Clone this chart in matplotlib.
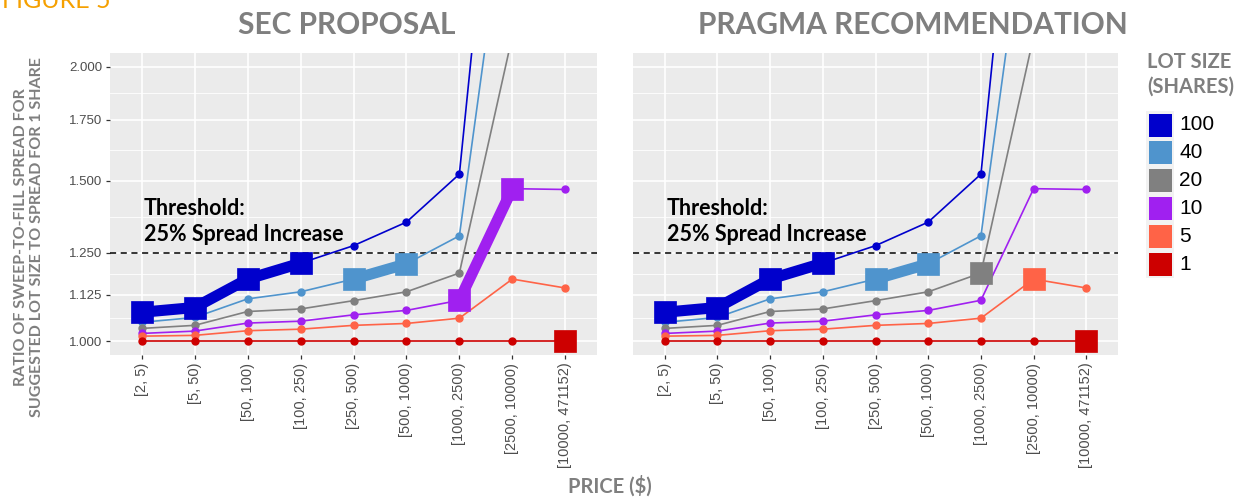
import numpy as np
import matplotlib
matplotlib.use("Agg")
import matplotlib.pyplot as plt
from matplotlib.ticker import FixedLocator, FuncFormatter, NullFormatter
from matplotlib.patches import Rectangle

# ---------------- data ----------------
categories = ["[2, 5)", "[5, 50)", "[50, 100)", "[100, 250)", "[250, 500)",
              "[500, 1000)", "[1000, 2500)", "[2500, 10000)", "[10000, 471152)"]
lot_sizes = ["100", "40", "20", "10", "5", "1"]
ratio_100 = [1.076, 1.089, 1.170, 1.218, 1.273, 1.351, 1.525, 5.70, 6.20]
ratio_40 = [1.049, 1.062, 1.113, 1.133, 1.170, 1.216, 1.305, 3.46, 3.60]
ratio_20 = [1.033, 1.041, 1.078, 1.085, 1.108, 1.133, 1.188, 2.16, 2.30]
ratio_10 = [1.020, 1.026, 1.047, 1.052, 1.069, 1.081, 1.109, 1.470, 1.467]
ratio_5 = [1.013, 1.015, 1.027, 1.031, 1.041, 1.046, 1.060, 1.170, 1.144]
ratio_1 = [1.000, 1.000, 1.000, 1.000, 1.000, 1.000, 1.000, 1.000, 1.000]
series = {"100": ratio_100, "40": ratio_40, "20": ratio_20,
          "10": ratio_10, "5": ratio_5, "1": ratio_1}
colors = {"100": "#0000CC", "40": "#4F94CD", "20": "#808080",
          "10": "#A020F0", "5": "#FF6347", "1": "#CD0000"}

# suggested lot size per price bucket
sec_lot = ["100", "100", "100", "100", "40", "40", "10", "10", "1"]
pragma_lot = ["100", "100", "100", "100", "40", "40", "20", "5", "1"]
panel_titles = ["SEC PROPOSAL", "PRAGMA RECOMMENDATION"]

y_breaks = [1.000, 1.125, 1.250, 1.500, 1.750, 2.000]
threshold = 1.25

# ---------------- figure ----------------
W, H = 1246, 497
fig = plt.figure(figsize=(W / 100, H / 100), dpi=100)

def fx(px):
    return px / W

def fy(py):
    return 1 - py / H

panel_top, panel_bot = 53, 355
ax_left = fig.add_axes([fx(110), fy(panel_bot), fx(487), fy(panel_top) - fy(panel_bot)])
ax_right = fig.add_axes([fx(633), fy(panel_bot), fx(485), fy(panel_top) - fy(panel_bot)])

bg = "#EBEBEB"
lo, hi = np.log(1.0), np.log(2.0)
ex = (hi - lo) * 0.05
ylim = (np.exp(lo - ex), np.exp(hi + ex))
minor = [np.sqrt(a * b) for a, b in zip(y_breaks[:-1], y_breaks[1:])]
x = np.arange(len(categories))

for ax, lots, title, tcx in zip([ax_left, ax_right], [sec_lot, pragma_lot],
                                panel_titles, [347, 913]):
    ax.set_facecolor(bg)
    for s in ax.spines.values():
        s.set_visible(False)
    ax.set_yscale("log")
    ax.set_ylim(*ylim)
    ax.set_xlim(-0.6, len(categories) - 0.4)
    ax.yaxis.set_major_locator(FixedLocator(y_breaks))
    ax.yaxis.set_minor_locator(FixedLocator(minor))
    ax.yaxis.set_minor_formatter(NullFormatter())
    ax.yaxis.set_major_formatter(FuncFormatter(lambda v, p: f"{v:.3f}"))
    ax.set_xticks(x)
    ax.set_xticklabels(categories, rotation=90, fontsize=10.5, color="#4D4D4D",
                       family="Liberation Sans")
    ax.tick_params(axis="both", which="major", length=3, width=0.9, color="#333333",
                   pad=2.5)
    ax.tick_params(axis="y", which="minor", length=0)
    for lab in ax.get_yticklabels():
        lab.set_fontsize(9.5)
        lab.set_color("#4D4D4D")
        lab.set_family("Liberation Sans")
    ax.grid(True, which="major", color="white", lw=1.2)
    ax.grid(True, which="minor", axis="y", color="white", lw=0.6)
    ax.set_axisbelow(True)

    ax.axhline(threshold, color="black", lw=1.1, ls=(0, (4, 3)), zorder=2)

    # thin lines for every lot size
    for k in lot_sizes:
        ax.plot(x, series[k], color=colors[k], lw=1.2, marker="o", ms=5,
                zorder=3, solid_capstyle="round")

    # highlighted suggested lot size
    i = 0
    while i < len(lots):
        j = i
        while j + 1 < len(lots) and lots[j + 1] == lots[i]:
            j += 1
        k = lots[i]
        xs = x[i:j + 1]
        ys = series[k][i:j + 1]
        if j > i:
            ax.plot(xs, ys, color=colors[k], lw=8, solid_capstyle="butt",
                    solid_joinstyle="round", zorder=4)
        ax.plot(xs, ys, ls="none", marker="s", ms=15.5, color=colors[k],
                mec=colors[k], mew=0.5, zorder=5)
        i = j + 1

    ax.text(0.04, 1.352, "Threshold:\n25% Spread Increase", fontsize=15.5,
            fontweight="bold", family="Lato", color="black", ha="left",
            va="center", linespacing=1.3, zorder=6)

    fig.text(fx(tcx), fy(25), title, fontsize=21.5, fontweight="bold",
             family="Lato", color="#7F7F7F", ha="center", va="center")

ax_right.tick_params(axis="y", which="both", left=False, labelleft=False)

# figure label (partly cut off at top, as in the reference)
fig.text(fx(2), fy(8), "FIGURE 5", fontsize=18, family="Lato", color="#F5A000",
         ha="left", va="baseline")

# axis titles
fig.text(fx(29), fy(237),
         "RATIO OF SWEEP-TO-FILL SPREAD FOR\nSUGGESTED LOT SIZE TO SPREAD FOR 1 SHARE",
         rotation=90, fontsize=11.5, fontweight="bold", family="Lato",
         color="#7F7F7F", ha="center", va="center", linespacing=1.15,
         multialignment="center")
fig.text(fx(610), fy(493), "PRICE ($)", fontsize=14.5, fontweight="bold",
         family="Lato", color="#7F7F7F", ha="center", va="baseline")

# legend
fig.text(fx(1147), fy(74), "LOT SIZE\n(SHARES)", fontsize=14.5, fontweight="bold",
         family="Lato", color="#7F7F7F", ha="left", va="center", linespacing=1.3)
key_top = 111
pitch = 27.8
for n, k in enumerate(lot_sizes):
    cy = key_top + 14 + n * pitch
    fig.patches.append(Rectangle((fx(1146), fy(cy + 14)), fx(28), fy(cy - 14) - fy(cy + 14),
                                 transform=fig.transFigure, facecolor="#F2F2F2",
                                 edgecolor="none"))
    fig.patches.append(Rectangle((fx(1148.5), fy(cy + 11.5)), fx(23), fy(cy - 11.5) - fy(cy + 11.5),
                                 transform=fig.transFigure, facecolor=colors[k],
                                 edgecolor="none"))
    fig.text(fx(1179), fy(cy), k, fontsize=15, family="Liberation Sans",
             color="black", ha="left", va="center")

fig.savefig("out.png", dpi=100, facecolor="white")
